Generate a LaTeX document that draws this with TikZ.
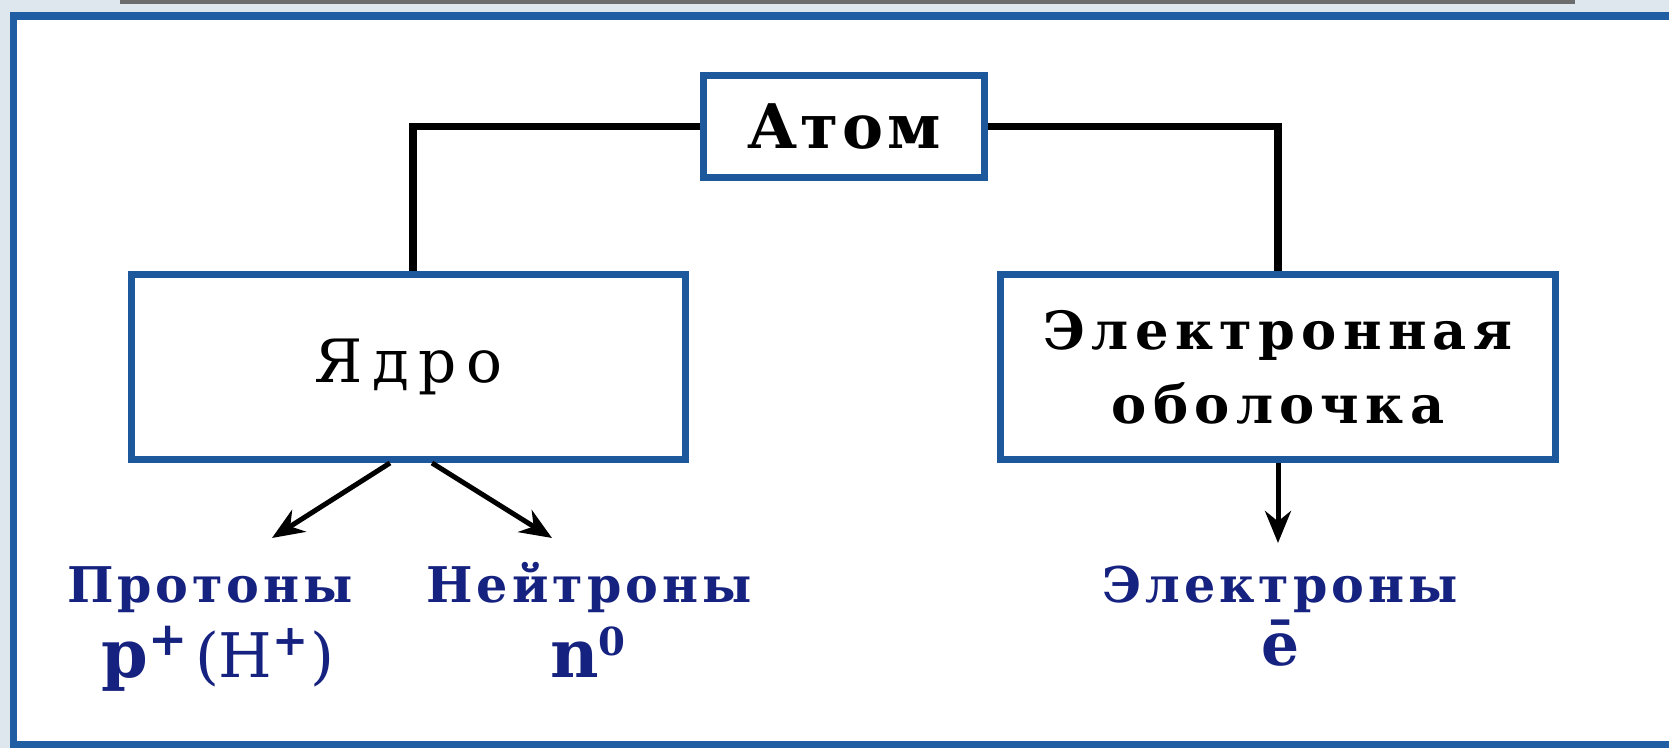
\documentclass[tikz,border=0pt]{standalone}
\usepackage{fontspec}
\usepackage{tikz}
\usetikzlibrary{arrows.meta,positioning}

\setmainfont{DejaVu Serif}
\newfontfamily\titlefont{DejaVu Serif}[LetterSpace=6]
\newfontfamily\corefont{DejaVu Serif}[LetterSpace=16]
\newfontfamily\shellfont{DejaVu Serif}[LetterSpace=12]
\newfontfamily\partfont{DejaVu Serif}[LetterSpace=8]

\definecolor{frameblue}{RGB}{32,94,164}
\definecolor{boxblue}{RGB}{30,88,156}
\definecolor{partnavy}{RGB}{22,34,128}
\definecolor{slidegrey}{RGB}{221,231,237}

\begin{document}
\begin{tikzpicture}[x=0.1mm, y=-0.1mm,
    block/.style={draw=boxblue, line width=0.7mm, fill=white, inner sep=0pt, align=center},
    link/.style={line width=0.75mm},
    ptr/.style={line width=0.5mm, -{Stealth[length=3.2mm, width=2.6mm]}},
    particle/.style={text=partnavy, inner sep=0pt, anchor=base}]
    \useasboundingbox (0,0) rectangle (1669,748);

    % Slide background and frame
    \fill[slidegrey] (0,0) rectangle (1669,748);
    \fill[gray!85!black] (120,0) rectangle (1575,4);
    \draw[frameblue, line width=0.75mm, fill=white] (13.5,16) rectangle (1690,745);

    % Boxes for the atom and its parts
    \node[block, minimum width=28.1mm, minimum height=10.2mm, font=\titlefont\bfseries\fontsize{17.5}{20}\selectfont] (atom) at (844,126.5) {Атом};
    \node[block, minimum width=55.4mm, minimum height=18.5mm, font=\corefont\fontsize{17}{20}\selectfont] (core) at (408.5,367) {Ядро};
    \node[block, minimum width=55.5mm, minimum height=18.5mm, font=\shellfont\bfseries\fontsize{15}{21}\selectfont] (shell) at (1278,367) {Электронная\\оболочка};

    % Atom to nucleus and shell
    \draw[link] (atom.west) -| ([xshift=0.45mm]core.north);
    \draw[link] (atom.east) -| (shell.north);

    % Particles
    \node[particle, font=\partfont\bfseries\fontsize{14}{17}\selectfont] (protons) at (210,603) {Протоны};
    \node[particle, font=\partfont\bfseries\fontsize{14}{17}\selectfont] (neutrons) at (589,603) {Нейтроны};
    \node[particle, font=\partfont\bfseries\fontsize{14}{17}\selectfont] (electrons) at (1280,603) {Электроны};
    \node[particle] (psym) at (218,678) {{\bfseries\fontsize{19}{22}\selectfont p\textsuperscript{+}}\,{\fontsize{17.5}{20}\selectfont(H\textsuperscript{\bfseries +})}};
    \node[particle, font=\bfseries\fontsize{19}{22}\selectfont] (nsym) at (589,678) {n\textsuperscript{\fontsize{11}{13}\selectfont 0}};
    \node[particle, font=\bfseries\fontsize{17}{20}\selectfont] (esym) at (1280,666) {ē};

    % Arrows down to the particles
    \coordinate (protip) at (272,538);
    \coordinate (neutip) at (552,538);
    \coordinate (electip) at (1278,543);
    \draw[ptr] ([xshift=-1.85mm]core.south) -- (protip);
    \draw[ptr] ([xshift=2.35mm]core.south) -- (neutip);
    \draw[ptr] (shell.south) -- (electip);
\end{tikzpicture}
\end{document}
